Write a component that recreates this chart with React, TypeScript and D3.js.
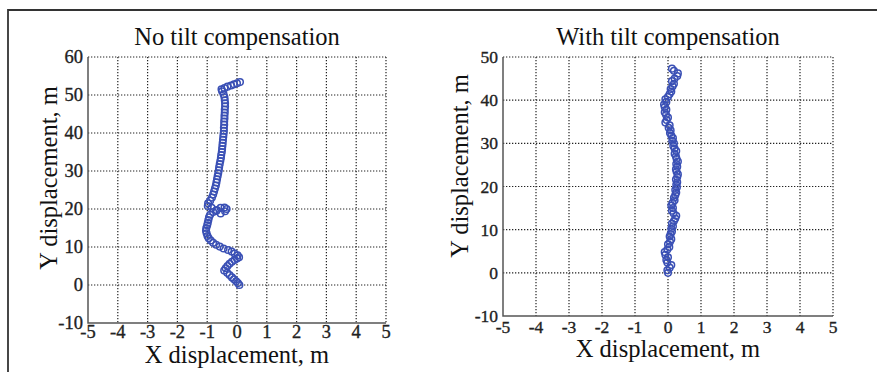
import React from 'react';
import * as d3 from 'd3';

// trajectory without tilt compensation (m)
const leftX = [
  0.08, 0.03, -0.03, -0.1, -0.17, -0.25, -0.33, -0.43,
  -0.38, -0.32, -0.25, -0.17, -0.08, 0.0, 0.07,
  0.02, -0.08, -0.18, -0.3, -0.45, -0.58, -0.7, -0.8, -0.88, -0.95, -0.99, -1.02, -1.04, -1.03, -1.0, -0.98, -0.96, -0.94, -0.9,
  -0.8, -0.68, -0.55, -0.42, -0.35, -0.4, -0.55, -0.7, -0.85, -0.98,
  -0.97, -0.9, -0.84, -0.8, -0.77, -0.74, -0.71, -0.69, -0.67, -0.65,
  -0.63, -0.61, -0.6, -0.58, -0.56, -0.54, -0.53, -0.51, -0.5, -0.49,
  -0.48, -0.47, -0.46, -0.45, -0.44, -0.44, -0.43, -0.43, -0.42, -0.42,
  -0.41, -0.41, -0.4, -0.4, -0.41, -0.42, -0.45, -0.5,
  -0.52, -0.42, -0.32, -0.2, -0.1, 0.0, 0.1,
];
const leftY = [
  0, 0.5, 1.0, 1.5, 2.0, 2.6, 3.2, 3.8,
  4.4, 5.0, 5.6, 6.1, 6.6, 7.0, 7.3,
  7.8, 8.3, 8.8, 9.2, 9.6, 10.1, 10.6, 11.1, 11.7, 12.3, 12.9, 13.6, 14.3, 15.0, 15.7, 16.4, 17.1, 17.8, 18.5,
  19.2, 19.7, 20.3, 20.4, 20.0, 19.4, 18.8, 19.5, 20.3, 20.8,
  21.5, 22.2, 23.0, 23.8, 24.6, 25.4, 26.2, 27.0, 27.8, 28.6,
  29.4, 30.2, 31.0, 31.8, 32.6, 33.4, 34.2, 35.0, 35.8, 36.6,
  37.4, 38.2, 39.0, 39.8, 40.6, 41.4, 42.2, 43.0, 43.8, 44.6,
  45.4, 46.2, 47.0, 47.8, 48.6, 49.4, 50.2, 51.0,
  51.5, 51.8, 52.2, 52.5, 52.8, 53.1, 53.4,
];

// trajectory with tilt compensation (m)
const rightX = [
  0.0, -0.02, 0.05, 0.1, -0.02, -0.05, 0.0, -0.08, -0.1, -0.02,
  0.04, 0.0, 0.06, 0.1, 0.05, 0.08, 0.12, 0.1, 0.15, 0.12,
  0.18, 0.22, 0.25, 0.17, 0.12, 0.15, 0.1, 0.14, 0.2, 0.18,
  0.22, 0.25, 0.22, 0.27, 0.25, 0.28, 0.24, 0.28, 0.3, 0.26,
  0.24, 0.28, 0.25, 0.3, 0.26, 0.24, 0.2, 0.25, 0.2, 0.16,
  0.18, 0.13, 0.15, 0.1, 0.06, 0.08, 0.02, 0.05, -0.08, -0.04,
  0.0, -0.06, -0.1, -0.05, -0.1, -0.12, -0.05, -0.08, 0.0, 0.05,
  0.1, 0.08, 0.14, 0.18, 0.12, 0.2, 0.28, 0.3, 0.18, 0.12,
];
const rightY = [
  0, 0.6, 1.2, 1.8, 2.4, 3.0, 3.6, 4.2, 4.8, 5.4,
  6.0, 6.6, 7.2, 7.8, 8.4, 9.0, 9.6, 10.2, 10.8, 11.4,
  12.0, 12.6, 13.2, 13.8, 14.4, 15.0, 15.6, 16.2, 16.8, 17.4,
  18.0, 18.6, 19.2, 19.8, 20.4, 21.0, 21.6, 22.2, 22.8, 23.4,
  24.0, 24.6, 25.2, 25.8, 26.4, 27.0, 27.6, 28.2, 28.8, 29.4,
  30.0, 30.6, 31.2, 31.8, 32.4, 33.0, 33.6, 34.2, 34.8, 35.4,
  36.0, 36.6, 37.2, 37.8, 38.4, 39.0, 39.6, 40.2, 40.8, 41.4,
  42.0, 42.6, 43.2, 43.8, 44.4, 45.0, 45.6, 46.2, 46.8, 47.3,
];

const xTicks = [-5, -4, -3, -2, -1, 0, 1, 2, 3, 4, 5];
const leftYTicks = [-10, 0, 10, 20, 30, 40, 50, 60];
const rightYTicks = [-10, 0, 10, 20, 30, 40, 50];

const FONT = '"Liberation Serif", "Times New Roman", serif';
const BLUE = '#3a50b5';

interface PanelProps {
  title: string;
  xs: number[];
  ys: number[];
  yTicks: number[];
  box: { left: number; right: number; top: number; bottom: number };
  tickSize: number;
  yTickX: number;
  xTickY: number;
  titleX: number;
  titleY: number;
  xLabelY: number;
  yLabelX: number;
  yLabelY: number;
}

const Panel: React.FC<PanelProps> = (p) => {
  const { left, right, top, bottom } = p.box;
  const x = d3.scaleLinear().domain([-5, 5]).range([left, right]);
  const y = d3.scaleLinear().domain(d3.extent(p.yTicks) as [number, number]).range([bottom, top]);

  return (
    <g>
      {/* dotted grid, incl. top/right box edges */}
      {xTicks.filter(t => t > -5).map(t => (
        <line key={'gx' + t} x1={x(t)} x2={x(t)} y1={top} y2={bottom}
          stroke="#222" strokeWidth={1.2} strokeDasharray="1.3,1.7" />
      ))}
      {p.yTicks.filter(t => t > p.yTicks[0]).map(t => (
        <line key={'gy' + t} x1={left} x2={right} y1={y(t)} y2={y(t)}
          stroke="#222" strokeWidth={1.2} strokeDasharray="1.3,1.7" />
      ))}
      {/* solid left & bottom axes */}
      <path d={`M${left},${top}V${bottom}H${right}`} fill="none" stroke="#555" strokeWidth={1.5} />

      {p.xs.map((v, i) => (
        <circle key={i} cx={x(v)} cy={y(p.ys[i])} r={3.3} fill="none" stroke={BLUE} strokeWidth={1.5} />
      ))}

      {p.yTicks.map(t => (
        <text key={'ty' + t} x={p.yTickX} y={y(t)} dy="0.35em" textAnchor="end"
          fontFamily={FONT} fontSize={p.tickSize} fill="#222" stroke="#222" strokeWidth={0.35}>{t}</text>
      ))}
      {xTicks.map(t => (
        <text key={'tx' + t} x={x(t)} y={p.xTickY} textAnchor="middle"
          fontFamily={FONT} fontSize={p.tickSize} fill="#222" stroke="#222" strokeWidth={0.35}>{t}</text>
      ))}

      <text x={p.titleX} y={p.titleY} textAnchor="middle" fontFamily={FONT} fontSize={24.5} fill="#111">{p.title}</text>
      <text x={p.titleX} y={p.xLabelY} textAnchor="middle" fontFamily={FONT} fontSize={24.5} fill="#111">X displacement, m</text>
      <text transform={`translate(${p.yLabelX},${p.yLabelY}) rotate(-90)`} textAnchor="middle"
        fontFamily={FONT} fontSize={24.5} fill="#111">Y displacement, m</text>
    </g>
  );
};

export default function App() {
  return (
    <svg width={877} height={372} style={{ position: 'absolute', left: 0, top: 0, background: '#fff' }}>
      <path d="M8,372V10H877" fill="none" stroke="#333" strokeWidth={1.8} />
      <Panel
        title="No tilt compensation"
        xs={leftX} ys={leftY} yTicks={leftYTicks}
        box={{ left: 88, right: 386, top: 57, bottom: 323 }}
        tickSize={18.5} yTickX={83} xTickY={338}
        titleX={237} titleY={45} xLabelY={363}
        yLabelX={57} yLabelY={178}
      />
      <Panel
        title="With tilt compensation"
        xs={rightX} ys={rightY} yTicks={rightYTicks}
        box={{ left: 503, right: 833, top: 57, bottom: 316 }}
        tickSize={17.5} yTickX={498} xTickY={333}
        titleX={668} titleY={45} xLabelY={357}
        yLabelX={468} yLabelY={166}
      />
    </svg>
  );
}
